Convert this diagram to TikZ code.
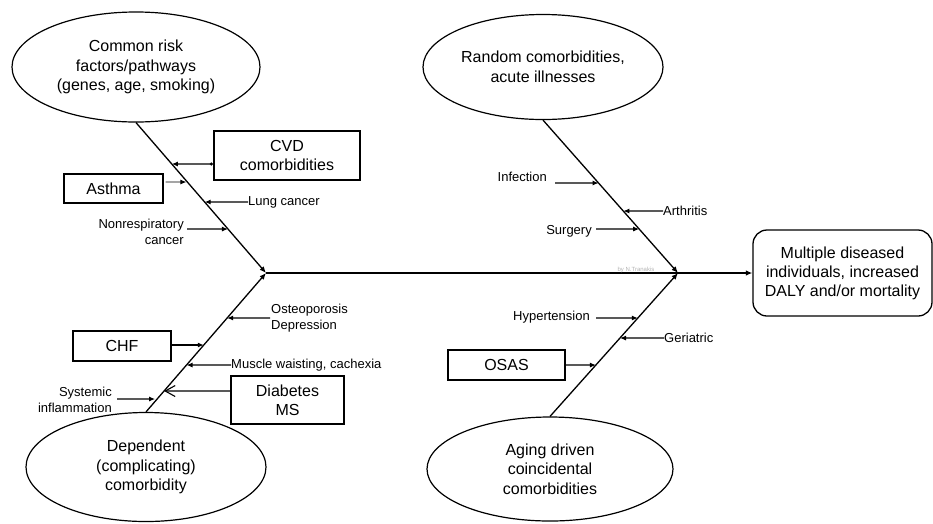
\documentclass[tikz,border=0pt]{standalone}
\usepackage{fontspec}
\setmainfont{Liberation Sans}
\usetikzlibrary{shapes.geometric,arrows.meta,calc}
\begin{document}
\begin{tikzpicture}[x=1pt,y=-1pt,
  bone/.style={line width=1.3pt},
  tipp/.style={-{Latex[length=6.5pt,width=5.5pt]}},
  feed/.style={line width=1.1pt,-{Latex[length=6pt,width=5pt]}},
  cause/.style={ellipse,draw,line width=1.2pt,font=\fontsize{16}{19.5}\selectfont,align=center,inner sep=0pt},
  bx/.style={draw,line width=1.3pt,font=\fontsize{16}{19}\selectfont,align=center,inner sep=0pt},
  lbl/.style={font=\fontsize{13}{16}\selectfont,inner sep=0pt}
]
\useasboundingbox (0,0) rectangle (933,523);

% cause ellipses
\node[cause,minimum width=248pt,minimum height=110pt] (e1) at (136,67) {Common risk\\factors/pathways\\(genes, age, smoking)};
\node[cause,minimum width=240pt,minimum height=105pt] (e2) at (543,67) {Random comorbidities,\\acute illnesses};
\node[cause,minimum width=240pt,minimum height=109pt] (e3) at (146,467) {Dependent\\(complicating)\\comorbidity};
\node[cause,minimum width=246pt,minimum height=104pt] (e4) at (550,469) {Aging driven\\coincidental\\comorbidities};

% outcome
\node[draw,line width=1.3pt,rounded corners=14pt,minimum width=179pt,minimum height=86pt,
      align=center,inner sep=0pt,font=\fontsize{16}{19}\selectfont] (out) at (842.5,273)
      {Multiple diseased\\individuals, increased\\DALY and/or mortality};

% junctions
\coordinate (J1) at (266,273);
\coordinate (J2) at (678,273);
\coordinate (b1) at (e1.south);
\coordinate (b2) at (e2.south);
\coordinate (b3) at (e3.north);
\coordinate (b4) at (e4.north);

% spine and bones
\draw[bone,tipp] (J1) -- (out.west);
\draw[bone,tipp] (b1) -- (J1);
\draw[bone,tipp] (b3) -- (J1);
\draw[bone,tipp] (b2) -- (J2);
\draw[bone,tipp] (b4) -- (J2);

\node[font=\fontsize{6}{7}\selectfont,text=black!30,inner sep=0pt] (wm) at (636,270) {by N.Tranakis};

% ---- upper left
\node[bx,line width=2.2pt,minimum width=146pt,minimum height=49pt] (cvd) at (287,155.5) {CVD\\comorbidities};
\node[bx,minimum width=99pt,minimum height=29pt] (asthma) at (113.5,188.5) {Asthma};
\node[lbl,anchor=west] (lung) at (248,202) {Lung cancer};
\node[lbl,anchor=east,align=right] (nonresp) at (184,232) {Nonrespiratory\\cancer};

\coordinate (q1) at (intersection of b1--J1 and 0,164--1,164);
\coordinate (q2) at (intersection of b1--J1 and 0,182--1,182);
\coordinate (q3) at (intersection of b1--J1 and 0,202--1,202);
\coordinate (q4) at (intersection of b1--J1 and 0,229--1,229);
\coordinate (s1) at ([yshift=-8.5pt]cvd.west);
\coordinate (s2) at ([xshift=2pt,yshift=6.5pt]asthma.east);
\coordinate (s4) at ([xshift=3pt,yshift=3pt]nonresp.east);

\draw[feed,{Circle[length=3pt]}-{Latex[length=6pt,width=5pt]}] (s1) -- (q1);
\draw[feed,line width=0.9pt] (s2) -- ([xshift=-1pt]q2);
\draw[feed] (lung.west) -- (q3);
\draw[feed,line width=1.3pt] (s4) -- (q4);

% ---- lower left
\node[lbl,anchor=west,align=left] (osteo) at (271,318) {Osteoporosis\\Depression};
\node[bx,minimum width=98pt,minimum height=30pt] (chf) at (122,346) {CHF};
\node[lbl,anchor=west] (muscle) at (231,365) {Muscle waisting, cachexia};
\node[bx,minimum width=113pt,minimum height=48pt] (diab) at (287.5,400) {Diabetes\\MS};
\node[lbl,anchor=east,align=right] (syst) at (112,400) {Systemic\\inflammation};

\coordinate (r1) at (intersection of b3--J1 and 0,318--1,318);
\coordinate (r2) at (intersection of b3--J1 and 0,345--1,345);
\coordinate (r3) at (intersection of b3--J1 and 0,365--1,365);
\coordinate (r4) at (intersection of b3--J1 and 0,391--1,391);
\coordinate (r5) at (intersection of b3--J1 and 0,399--1,399);
\coordinate (t1) at ([xshift=-1pt]osteo.west);
\coordinate (t4) at ([yshift=9pt]diab.west);
\coordinate (t5) at ([xshift=5pt,yshift=1pt]syst.east);

\draw[feed] (t1) -- (r1);
\draw[feed] (chf.east |- r2) -- (r2);
\draw[feed] (muscle.west) -- (r3);
\draw[line width=1.1pt,-{Straight Barb[length=10pt,width=11pt]}] (t4) -- (r4);
\draw[feed,line width=1.3pt] (t5) -- ([xshift=-2pt]r5);

% ---- upper right
\node[lbl,anchor=east] (inf) at (547,177) {Infection};
\node[lbl,anchor=west] (arth) at (663,211) {Arthritis};
\node[lbl,anchor=east] (surg) at (592,231) {Surgery};

\coordinate (u1) at (intersection of b2--J2 and 0,183--1,183);
\coordinate (u2) at (intersection of b2--J2 and 0,211--1,211);
\coordinate (u3) at (intersection of b2--J2 and 0,229--1,229);
\coordinate (v1) at ([xshift=8pt,yshift=-6pt]inf.east);
\coordinate (v3) at ([xshift=4pt,yshift=2pt]surg.east);

\draw[feed] (v1) -- (u1);
\draw[feed] (arth.west) -- (u2);
\draw[feed] (v3) -- (u3);

% ---- lower right
\node[lbl,anchor=east] (hyp) at (590,317) {Hypertension};
\node[lbl,anchor=west] (ger) at (664,338) {Geriatric};
\node[bx,minimum width=117pt,minimum height=30pt] (osas) at (506.5,365) {OSAS};

\coordinate (w1) at (intersection of b4--J2 and 0,318--1,318);
\coordinate (w2) at (intersection of b4--J2 and 0,338--1,338);
\coordinate (w3) at (intersection of b4--J2 and 0,365--1,365);
\coordinate (x1) at ([xshift=6pt,yshift=-1pt]hyp.east);

\draw[feed] (x1) -- (w1);
\draw[feed] (ger.west) -- (w2);
\draw[feed] (osas.east) -- (w3);

\end{tikzpicture}
\end{document}
